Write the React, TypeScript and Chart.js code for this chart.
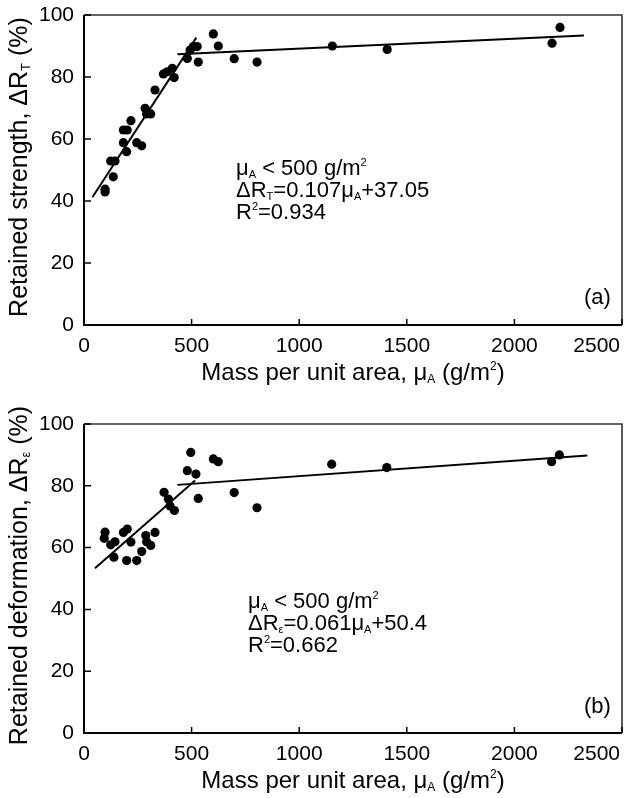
import React, { useEffect, useRef } from "react";
import { Chart, registerables } from "chart.js";

Chart.register(...registerables);

const FONT = '"Liberation Sans", Arial, Helvetica, sans-serif';

// ---------- tick values ----------
const xTickValues = [0, 500, 1000, 1500, 2000, 2500];
const yTickValues = [0, 20, 40, 60, 80, 100];

// ---------- (a) retained strength ----------
const strengthMass = [98, 98, 136, 124, 144, 198, 183, 183, 201, 218, 245, 268, 284, 291, 310, 330, 369, 387, 410, 419, 480, 493, 508, 526, 531, 601, 624, 698, 804, 1154, 1409, 2175, 2212];
const strengthRetained = [43.8, 42.9, 47.8, 52.9, 52.9, 55.9, 58.8, 62.9, 62.9, 65.9, 58.8, 57.8, 69.9, 68.1, 68.1, 75.8, 81, 81.7, 82.8, 79.8, 86, 88.7, 89.8, 89.8, 84.8, 93.9, 90, 85.9, 84.8, 90, 88.9, 90.9, 96];
const strengthFitLowX = [39, 522];
const strengthFitLowY = [41.2, 92.7];
const strengthFitHighX = [434, 2323];
const strengthFitHighY = [87.3, 93.4];

// ---------- (b) retained deformation ----------
const deformMass = [98, 94, 124, 144, 139, 183, 201, 218, 198, 245, 268, 287, 291, 310, 330, 372, 392, 400, 420, 480, 496, 520, 531, 601, 624, 698, 804, 1151, 1407, 2173, 2209];
const deformRetained = [65, 63, 60.9, 61.9, 56.9, 64.9, 66, 61.8, 55.8, 55.8, 58.7, 63.9, 61.9, 60.7, 64.9, 77.9, 75.7, 73.5, 72, 84.9, 90.8, 83.8, 75.9, 88.7, 87.8, 77.8, 72.9, 87, 85.9, 87.8, 90];
const deformFitLowX = [51, 516];
const deformFitLowY = [53.3, 81.7];
const deformFitHighX = [434, 2339];
const deformFitHighY = [80.3, 89.8];

type Seg = [string, number]; // 0 normal, 1 superscript, -1 subscript

const xTitle: Seg[] = [["Mass per unit area, μ", 0], ["A", -1], [" (g/m", 0], ["2", 1], [")", 0]];
const strengthTitle: Seg[] = [["Retained strength, ΔR", 0], ["T", -1], [" (%)", 0]];
const deformTitle: Seg[] = [["Retained deformation, ΔR", 0], ["ε", -1], [" (%)", 0]];
const strengthNote: Seg[][] = [
  [["μ", 0], ["A", -1], [" < 500 g/m", 0], ["2", 1]],
  [["ΔR", 0], ["T", -1], ["=0.107μ", 0], ["A", -1], ["+37.05", 0]],
  [["R", 0], ["2", 1], ["=0.934", 0]],
];
const deformNote: Seg[][] = [
  [["μ", 0], ["A", -1], [" < 500 g/m", 0], ["2", 1]],
  [["ΔR", 0], ["ε", -1], ["=0.061μ", 0], ["A", -1], ["+50.4", 0]],
  [["R", 0], ["2", 1], ["=0.662", 0]],
];

function segFont(size: number, mode: number) {
  return `${mode === 0 ? size : Math.round(size * 0.5)}px ${FONT}`;
}

function richWidth(ctx: CanvasRenderingContext2D, segs: Seg[], size: number) {
  let w = 0;
  for (const [t, m] of segs) {
    ctx.font = segFont(size, m);
    w += ctx.measureText(t).width;
  }
  return w;
}

function drawRich(ctx: CanvasRenderingContext2D, segs: Seg[], x: number, y: number, size: number, center: boolean) {
  let cx = center ? x - richWidth(ctx, segs, size) / 2 : x;
  ctx.textBaseline = "alphabetic";
  ctx.textAlign = "left";
  for (const [t, m] of segs) {
    ctx.font = segFont(size, m);
    const dy = m === 1 ? -size * 0.42 : m === -1 ? size * 0.12 : 0;
    ctx.fillText(t, cx, y + dy);
    cx += ctx.measureText(t).width;
  }
}

interface PanelSpec {
  mass: number[];
  retained: number[];
  lowX: number[];
  lowY: number[];
  highX: number[];
  highY: number[];
  yTitle: Seg[];
  note: Seg[][];
  noteDx: number;
  noteDy: number;
  tag: string;
  tagDy: number;
  padTop: number;
  xAxisHeight: number;
}

function makeDecor(spec: PanelSpec) {
  return {
    id: "decor",
    afterDraw(chart: any) {
      const ctx: CanvasRenderingContext2D = chart.ctx;
      const { left, right, top, bottom } = chart.chartArea;
      const xs = chart.scales.x;
      const ys = chart.scales.y;
      ctx.save();
      ctx.fillStyle = "#000";
      // frame
      ctx.lineWidth = 1.6;
      ctx.strokeStyle = "#333";
      ctx.beginPath();
      ctx.moveTo(left, top);
      ctx.lineTo(right, top);
      ctx.lineTo(right, bottom);
      ctx.stroke();
      ctx.strokeStyle = "#000";
      ctx.lineWidth = 2;
      ctx.beginPath();
      ctx.moveTo(left, top);
      ctx.lineTo(left, bottom);
      ctx.lineTo(right, bottom);
      ctx.stroke();
      // inner ticks
      ctx.lineWidth = 1.5;
      ctx.beginPath();
      for (const v of xTickValues) {
        const px = xs.getPixelForValue(v);
        ctx.moveTo(px, bottom);
        ctx.lineTo(px, bottom - 6);
      }
      for (const v of yTickValues) {
        const py = ys.getPixelForValue(v);
        ctx.moveTo(left, py);
        ctx.lineTo(left + 7, py);
      }
      ctx.stroke();
      // x tick labels
      ctx.font = `21px ${FONT}`;
      ctx.textBaseline = "alphabetic";
      ctx.textAlign = "center";
      for (const v of xTickValues) {
        const label = String(v);
        const w = ctx.measureText(label).width;
        const px = Math.min(xs.getPixelForValue(v), chart.width - 7 - w / 2);
        ctx.fillText(label, px, bottom + 27);
      }
      // x title
      drawRich(ctx, xTitle, (left + right) / 2, bottom + 55, 24, true);
      // y title
      ctx.save();
      ctx.translate(27, (top + bottom) / 2 - 3);
      ctx.rotate(-Math.PI / 2);
      drawRich(ctx, spec.yTitle, 0, 0, 25, true);
      ctx.restore();
      // annotation
      spec.note.forEach((line, i) => {
        drawRich(ctx, line, left + spec.noteDx, top + spec.noteDy + i * 22, 22, false);
      });
      // panel tag
      ctx.font = `22px ${FONT}`;
      ctx.textAlign = "left";
      ctx.fillText(spec.tag, right - 38, bottom - spec.tagDy);
      ctx.restore();
    },
  };
}

function makeConfig(spec: PanelSpec): any {
  return {
    type: "scatter",
    data: {
      datasets: [
        {
          data: spec.mass.map((m, i) => ({ x: m, y: spec.retained[i] })),
          pointRadius: 4.6,
          pointBackgroundColor: "#000",
          pointBorderWidth: 0,
          showLine: false,
        },
        {
          data: spec.lowX.map((m, i) => ({ x: m, y: spec.lowY[i] })),
          showLine: true,
          pointRadius: 0,
          borderColor: "#000",
          borderWidth: 2,
        },
        {
          data: spec.highX.map((m, i) => ({ x: m, y: spec.highY[i] })),
          showLine: true,
          pointRadius: 0,
          borderColor: "#000",
          borderWidth: 2,
        },
      ],
    },
    options: {
      animation: false,
      responsive: false,
      events: [],
      layout: { padding: { top: spec.padTop, right: 5, left: 0, bottom: 0 } },
      plugins: { legend: { display: false }, tooltip: { enabled: false } },
      scales: {
        x: {
          type: "linear",
          min: 0,
          max: 2500,
          ticks: { stepSize: 500, display: false },
          grid: { display: false, drawTicks: false },
          border: { display: false },
          afterFit: (s: any) => {
            s.height = spec.xAxisHeight;
            s.paddingLeft = 0;
            s.paddingRight = 0;
          },
        },
        y: {
          type: "linear",
          min: 0,
          max: 100,
          ticks: { stepSize: 20, color: "#000", padding: 10, font: { family: FONT, size: 21 } },
          grid: { display: false, drawTicks: false },
          border: { display: false },
          afterFit: (s: any) => {
            s.width = 84;
            s.paddingTop = 0;
            s.paddingBottom = 0;
          },
        },
      },
    },
    plugins: [makeDecor(spec)],
  };
}

const panelA: PanelSpec = {
  mass: strengthMass,
  retained: strengthRetained,
  lowX: strengthFitLowX,
  lowY: strengthFitLowY,
  highX: strengthFitHighX,
  highY: strengthFitHighY,
  yTitle: strengthTitle,
  note: strengthNote,
  noteDx: 152,
  noteDy: 160,
  tag: "(a)",
  tagDy: 21,
  padTop: 15,
  xAxisHeight: 74,
};

const panelB: PanelSpec = {
  mass: deformMass,
  retained: deformRetained,
  lowX: deformFitLowX,
  lowY: deformFitLowY,
  highX: deformFitHighX,
  highY: deformFitHighY,
  yTitle: deformTitle,
  note: deformNote,
  noteDx: 164,
  noteDy: 184,
  tag: "(b)",
  tagDy: 20,
  padTop: 25,
  xAxisHeight: 65,
};

function Panel({ spec }: { spec: PanelSpec }) {
  const ref = useRef<HTMLCanvasElement>(null);
  useEffect(() => {
    if (!ref.current) return;
    const chart = new Chart(ref.current, makeConfig(spec));
    return () => chart.destroy();
  }, [spec]);
  return <canvas ref={ref} width={627} height={399} style={{ display: "block", width: 627, height: 399 }} />;
}

export default function App() {
  return (
    <div style={{ position: "absolute", left: 0, top: 0, width: 627, height: 798, background: "#fff" }}>
      <Panel spec={panelA} />
      <Panel spec={panelB} />
    </div>
  );
}
